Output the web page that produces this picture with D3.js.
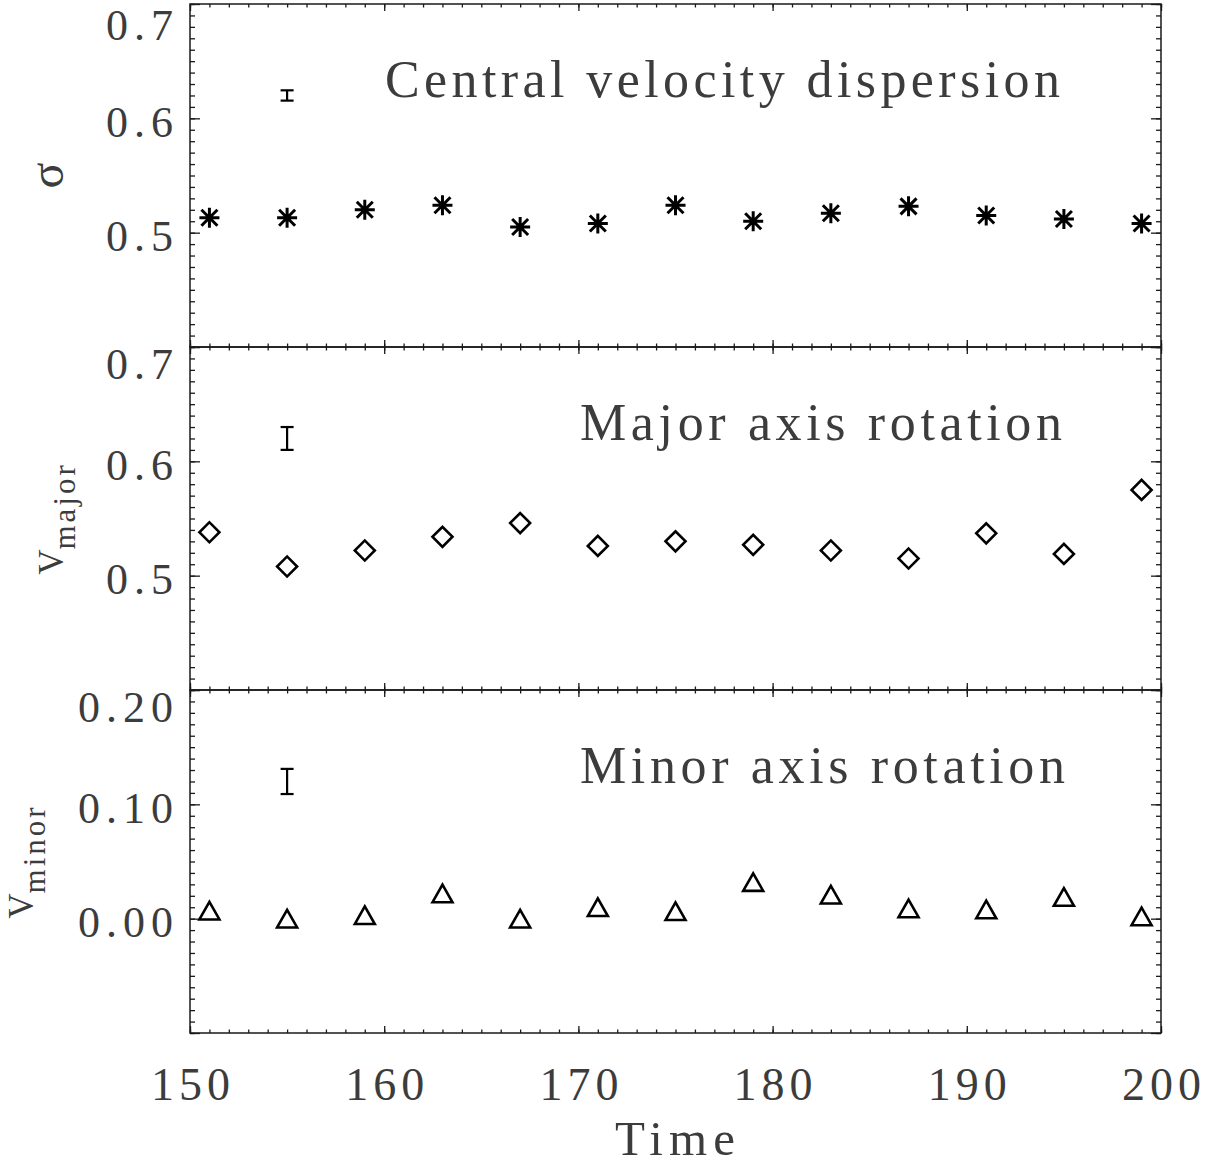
<!DOCTYPE html>
<html>
<head>
<meta charset="utf-8">
<script src="https://cdn.jsdelivr.net/npm/d3@7"></script>
<style>
  body { margin: 0; background: #fff; }
  svg { display: block; }
  text { font-family: "Liberation Serif", "Times New Roman", serif; fill: #3c3c3c; }
</style>
</head>
<body>
<svg id="chart" width="1218" height="1167"></svg>
<script>
// Snapshot times (shared by all three panels)
const times = [151, 155, 159, 163, 167, 171, 175, 179, 183, 187, 191, 195, 199];

// Central velocity dispersion
const sigma = [0.513, 0.513, 0.520, 0.524, 0.505, 0.508, 0.524, 0.510, 0.517, 0.523, 0.515, 0.512, 0.508];
// Major axis rotation
const vMajor = [0.538, 0.508, 0.522, 0.534, 0.546, 0.526, 0.530, 0.527, 0.522, 0.515, 0.537, 0.519, 0.575];
// Minor axis rotation
const vMinor = [0.007, 0.000, 0.003, 0.022, 0.000, 0.010, 0.0065, 0.032, 0.021, 0.009, 0.008, 0.019, 0.002];

// Typical error bar shown in each panel
const errTime = 155;
const errCenters = [0.62, 0.62, 0.12];
const errHalf = [0.0045, 0.010, 0.011];

const panelTitles = ["Central velocity dispersion", "Major axis rotation", "Minor axis rotation"];
const yDomains = [[0.4, 0.7], [0.4, 0.7], [-0.1, 0.2]];
const yMajorTicks = [[0.4, 0.5, 0.6, 0.7], [0.4, 0.5, 0.6, 0.7], [-0.1, 0.0, 0.1, 0.2]];
const yTickLabels = [["", "0.5", "0.6", "0.7"], ["", "0.5", "0.6", "0.7"], ["", "0.00", "0.10", "0.20"]];
const xTickValues = [150, 160, 170, 180, 190, 200];
const xTickLabels = ["150", "160", "170", "180", "190", "200"];
const xTitle = "Time";

// ---- layout ----
const L = 190, R = 1161, H = 343;
const tops = [4, 347, 690];
const INK = "#1a1a1a";
const LS_Y = 6, LS_X = 5;

const svg = d3.select("#chart");
const x = d3.scaleLinear().domain([150, 200]).range([L, R]);
const xMinor = d3.range(150, 201, 1);

function styleAxis(g) {
  g.select(".domain").remove();
  g.selectAll(".tick line").attr("stroke", INK).attr("stroke-width", 1.3);
  g.attr("font-family", null).attr("font-size", null);
}

function fitText(sel, x0, x1) {
  sel.attr("x", x0).attr("text-anchor", "start").style("letter-spacing", "0px");
  const n = sel.text().length;
  const w = sel.node().getComputedTextLength();
  sel.style("letter-spacing", ((x1 - x0 - w) / (n - 1)) + "px");
}

const series = [sigma, vMajor, vMinor];
const titleExtents = [[385, 1060], [580, 1062], [580, 1065]];

tops.forEach((top, i) => {
  const bot = top + H;
  const [y0, y1] = yDomains[i];
  const y = d3.scaleLinear().domain([y0, y1]).range([bot, top]);
  const yMinor = d3.range(0, 31).map(k => +(y0 + k * 0.01).toFixed(3));
  const g = svg.append("g");

  // minor ticks on all four sides
  g.append("g").attr("transform", `translate(${L},0)`)
    .call(d3.axisLeft(y).tickValues(yMinor).tickSize(-5).tickFormat("")).call(styleAxis);
  g.append("g").attr("transform", `translate(${R},0)`)
    .call(d3.axisRight(y).tickValues(yMinor).tickSize(-5).tickFormat("")).call(styleAxis);
  g.append("g").attr("transform", `translate(0,${top})`)
    .call(d3.axisTop(x).tickValues(xMinor).tickSize(-3.5).tickFormat("")).call(styleAxis);
  g.append("g").attr("transform", `translate(0,${bot})`)
    .call(d3.axisBottom(x).tickValues(xMinor).tickSize(-3.5).tickFormat("")).call(styleAxis);

  // major ticks
  const yAxis = g.append("g").attr("transform", `translate(${L},0)`)
    .call(d3.axisLeft(y).tickValues(yMajorTicks[i]).tickSize(-10).tickPadding(17)
      .tickFormat((d, j) => yTickLabels[i][j])).call(styleAxis);
  yAxis.selectAll(".tick text")
    .attr("fill", "#3c3c3c").attr("font-size", 44)
    .style("letter-spacing", LS_Y + "px").attr("dx", LS_Y)
    .attr("dy", d => (Math.abs(d - y1) < 1e-9 ? (i === 0 ? 35 : 31) : 18));
  g.append("g").attr("transform", `translate(${R},0)`)
    .call(d3.axisRight(y).tickValues(yMajorTicks[i]).tickSize(-10).tickFormat("")).call(styleAxis);
  g.append("g").attr("transform", `translate(0,${top})`)
    .call(d3.axisTop(x).tickValues(xTickValues).tickSize(-7).tickFormat("")).call(styleAxis);
  const xAxis = g.append("g").attr("transform", `translate(0,${bot})`)
    .call(d3.axisBottom(x).tickValues(xTickValues).tickSize(-7)
      .tickFormat((d, j) => (i === 2 ? xTickLabels[j] : ""))).call(styleAxis);
  xAxis.selectAll(".tick text")
    .attr("fill", "#3c3c3c").attr("font-size", 46)
    .style("letter-spacing", LS_X + "px").attr("dx", LS_X / 2)
    .attr("y", 67).attr("dy", 0);

  // frame
  g.append("rect").attr("x", L).attr("y", top).attr("width", R - L).attr("height", H)
    .attr("fill", "none").attr("stroke", INK).attr("stroke-width", 1.5);

  // error bar
  const ex = x(errTime);
  const eb = g.append("g").attr("stroke", "#000").attr("stroke-width", 2.2).attr("fill", "none");
  eb.append("line").attr("x1", ex).attr("x2", ex)
    .attr("y1", y(errCenters[i] - errHalf[i])).attr("y2", y(errCenters[i] + errHalf[i]));
  [errCenters[i] - errHalf[i], errCenters[i] + errHalf[i]].forEach(v => {
    eb.append("line").attr("x1", ex - 6.5).attr("x2", ex + 6.5).attr("y1", y(v)).attr("y2", y(v));
  });

  // data symbols
  const pts = times.map((t, k) => ({ t, v: series[i][k] }));
  const mk = g.append("g").attr("stroke", "#000").attr("fill", "none")
    .attr("stroke-width", 2.6).attr("stroke-linejoin", "miter");
  if (i === 0) {
    const s = 10;
    mk.selectAll("path").data(pts).join("path")
      .attr("transform", d => `translate(${x(d.t)},${y(d.v)})`)
      .attr("d", `M${-s},0H${s}M0,${-s}V${s}M${-s * 0.8},${-s * 0.8}L${s * 0.8},${s * 0.8}M${-s * 0.8},${s * 0.8}L${s * 0.8},${-s * 0.8}`)
      .attr("stroke-width", 3);
  } else if (i === 1) {
    const diamond = d3.symbol(d3.symbolSquare, 200);
    mk.selectAll("path").data(pts).join("path")
      .attr("transform", d => `translate(${x(d.t)},${y(d.v)}) rotate(45)`)
      .attr("d", diamond);
  } else {
    mk.selectAll("path").data(pts).join("path")
      .attr("transform", d => `translate(${x(d.t)},${y(d.v)})`)
      .attr("d", "M-10,8.8L0,-8.8L10,8.8Z");
  }

  // panel title
  const tt = g.append("text").attr("y", top + 93).attr("font-size", 52).text(panelTitles[i]);
  fitText(tt, titleExtents[i][0], titleExtents[i][1]);
});

// y-axis titles
const midY = i => tops[i] + H / 2;
svg.append("text")
  .attr("transform", `translate(63,${midY(0)}) rotate(-90)`)
  .attr("text-anchor", "middle").attr("font-size", 48).text("σ");

function vTitle(xb, i, sub) {
  const t = svg.append("text")
    .attr("transform", `translate(${xb},${midY(i)}) rotate(-90)`)
    .attr("text-anchor", "middle");
  t.append("tspan").attr("font-size", 35).text("V");
  t.append("tspan").attr("font-size", 31).attr("dy", 12)
    .style("letter-spacing", "3px").text(sub);
}
vTitle(63, 1, "major");
vTitle(33, 2, "minor");

// x-axis title
const xt = svg.append("text").attr("y", 1155).attr("font-size", 49).text(xTitle);
fitText(xt, 615, 735);
</script>
</body>
</html>
